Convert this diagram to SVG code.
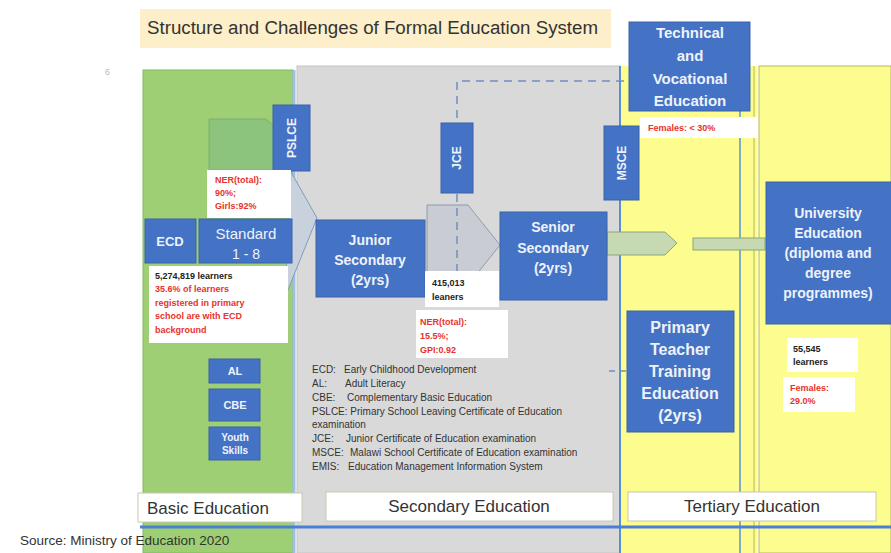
<svg xmlns="http://www.w3.org/2000/svg" width="891" height="553" viewBox="0 0 891 553">
<defs>
<style>
text{font-family:"Liberation Sans",Arial,sans-serif;}
.box{fill:#4472c4;stroke:#3a62a8;stroke-width:1;}
.bt{fill:#eef2fa;font-weight:bold;text-anchor:middle;}
.wbox{fill:#ffffff;}
.red{fill:#e8322b;font-weight:bold;font-size:9px;}
.blk{fill:#222;font-weight:bold;font-size:9px;}
.leg{fill:#333;font-size:10px;}
.lab{fill:#ffffff;stroke:#c8c8b0;stroke-width:1;}
.labt{fill:#333;font-size:17px;}
</style>
</defs>
<rect width="891" height="553" fill="#ffffff"/>
<g id="title">
<rect x="140" y="9" width="471" height="39" fill="#fdefc9"/>
<text x="147" y="34" font-size="18" fill="#333" textLength="451" lengthAdjust="spacingAndGlyphs">Structure  and Challenges of Formal Education System</text>
</g>
<text x="105" y="75" font-size="9" fill="#bbbbbb">6</text>
<g id="regions">
<rect x="143" y="70" width="150" height="483" fill="#9ecf74" stroke="#84b95c" stroke-width="1"/>
<rect x="297" y="66" width="323" height="487" fill="#d9d9d9" stroke="#c4c4c4" stroke-width="1"/>
<rect x="620" y="66" width="137" height="487" fill="#fdfd8f"/>
<rect x="759" y="66" width="132" height="487" fill="#fdfd8f" stroke="#b8b85a" stroke-width="1"/>
<line x1="294" y1="70" x2="294" y2="553" stroke="#9dc0e8" stroke-width="3"/>
<line x1="620" y1="66" x2="620" y2="553" stroke="#5b8fd0" stroke-width="2"/>
<line x1="740" y1="111" x2="740" y2="553" stroke="#5b8fd0" stroke-width="1.5"/>
<line x1="754" y1="66" x2="754" y2="553" stroke="#b8b85a" stroke-width="1"/>
</g>
<g id="connectors">
<polygon points="209,119 266,119 292,142 292,170 209,170" fill="#8cc47e" stroke="#7aae6c" stroke-width="1"/>
<polygon points="291,172 317,218 285,297" fill="#c9d1dc" stroke="#7f9cc4" stroke-width="1"/>
<polygon points="427,205 468,205 500,245 468,285 427,285" fill="#c9ccd2" stroke="#8c9bb0" stroke-width="1"/>
<path d="M457,300 V81 H628" fill="none" stroke="#6f8fc0" stroke-width="1.5" stroke-dasharray="8,6"/>
<line x1="609" y1="371" x2="626" y2="371" stroke="#6f8fc0" stroke-width="1.5" stroke-dasharray="6,5"/>
<polygon points="607,232 665,232 677,243 665,255 607,255" fill="#c6d9b2" stroke="#8aa876" stroke-width="1"/>
<rect x="693" y="238" width="72" height="12" fill="#c6d9b2" stroke="#8aa876" stroke-width="1"/>
</g>
<g id="pslce">
<rect class="box" x="273" y="105" width="37" height="66"/>
<text class="bt" font-size="12" transform="translate(296,138) rotate(-90)">PSLCE</text>
</g>
<g id="ner-primary">
<rect class="wbox" x="207" y="170" width="84" height="48"/>
<text class="red" x="215" y="183">NER(total):</text>
<text class="red" x="215" y="196">90%;</text>
<text class="red" x="215" y="209">Girls:92%</text>
</g>
<g id="ecd">
<rect class="box" x="145" y="219" width="51" height="44"/>
<text class="bt" font-size="13" x="170" y="246">ECD</text>
</g>
<g id="standard">
<rect class="box" x="199" y="219" width="93" height="44"/>
<text class="bt" font-size="15" x="246" y="239" style="font-weight:normal">Standard</text>
<text class="bt" font-size="14" x="246" y="259" style="font-weight:normal">1 - 8</text>
</g>
<g id="learners-primary">
<rect class="wbox" x="149" y="266" width="139" height="77"/>
<text class="blk" x="155" y="279">5,274,819  learners</text>
<text class="red" x="155" y="292">35.6% of learners</text>
<text class="red" x="155" y="306">registered in primary</text>
<text class="red" x="155" y="319">school are with ECD</text>
<text class="red" x="155" y="333">background</text>
</g>
<g id="al">
<rect class="box" x="209" y="359" width="51" height="24"/>
<text class="bt" font-size="11" x="235" y="375">AL</text>
</g>
<g id="cbe">
<rect class="box" x="209" y="389" width="51" height="32"/>
<text class="bt" font-size="11" x="235" y="409">CBE</text>
</g>
<g id="youth">
<rect class="box" x="209" y="427" width="51" height="33"/>
<text class="bt" font-size="10" x="235" y="441">Youth</text>
<text class="bt" font-size="10" x="235" y="454">Skills</text>
</g>
<g id="junior">
<rect class="box" x="316" y="220" width="109" height="77"/>
<text class="bt" font-size="14" x="370" y="245">Junior</text>
<text class="bt" font-size="14" x="370" y="265">Secondary</text>
<text class="bt" font-size="14" x="370" y="285">(2yrs)</text>
</g>
<g id="jce">
<rect class="box" x="441" y="123" width="32" height="70"/>
<text class="bt" font-size="12" transform="translate(461,158) rotate(-90)">JCE</text>
</g>
<g id="learners-secondary">
<rect class="wbox" x="425" y="271" width="74" height="36"/>
<text class="blk" x="432" y="286">415,013</text>
<text class="blk" x="432" y="300">leaners</text>
</g>
<g id="ner-secondary">
<rect class="wbox" x="416" y="310" width="92" height="48"/>
<text class="red" x="420" y="325">NER(total):</text>
<text class="red" x="420" y="339">15.5%;</text>
<text class="red" x="420" y="353">GPI:0.92</text>
</g>
<g id="senior">
<rect class="box" x="500" y="212" width="107" height="88"/>
<text class="bt" font-size="14" x="553" y="232">Senior</text>
<text class="bt" font-size="14" x="553" y="253">Secondary</text>
<text class="bt" font-size="14" x="553" y="273">(2yrs)</text>
</g>
<g id="msce">
<rect class="box" x="604" y="126" width="35" height="74"/>
<text class="bt" font-size="12" transform="translate(626,163) rotate(-90)">MSCE</text>
</g>
<g id="tve">
<rect class="box" x="629" y="22" width="121" height="89"/>
<text class="bt" font-size="15" x="690" y="38">Technical</text>
<text class="bt" font-size="15" x="690" y="61">and</text>
<text class="bt" font-size="15" x="690" y="84">Vocational</text>
<text class="bt" font-size="15" x="690" y="106">Education</text>
</g>
<g id="tve-females">
<rect class="wbox" x="640" y="117" width="117" height="21"/>
<text class="red" x="648" y="131">Females: &lt; 30%</text>
</g>
<g id="ptte">
<rect class="box" x="627" y="311" width="107" height="121"/>
<text class="bt" font-size="16" x="680" y="333">Primary</text>
<text class="bt" font-size="16" x="680" y="355">Teacher</text>
<text class="bt" font-size="16" x="680" y="377">Training</text>
<text class="bt" font-size="16" x="680" y="399">Education</text>
<text class="bt" font-size="16" x="680" y="421">(2yrs)</text>
</g>
<g id="university">
<rect class="box" x="766" y="182" width="130" height="142"/>
<text class="bt" font-size="14" x="828" y="218">University</text>
<text class="bt" font-size="14" x="828" y="238">Education</text>
<text class="bt" font-size="14" x="828" y="258">(diploma and</text>
<text class="bt" font-size="14" x="828" y="278">degree</text>
<text class="bt" font-size="14" x="828" y="298">programmes)</text>
</g>
<g id="uni-learners">
<rect class="wbox" x="787" y="338" width="71" height="34"/>
<text class="blk" x="793" y="352">55,545</text>
<text class="blk" x="793" y="365">learners</text>
</g>
<g id="uni-females">
<rect class="wbox" x="783" y="377" width="72" height="35"/>
<text class="red" x="790" y="391">Females:</text>
<text class="red" x="790" y="404">29.0%</text>
</g>
<g id="legend">
<text class="leg" x="312" y="373">ECD:</text><text class="leg" x="344" y="373">Early Childhood Development</text>
<text class="leg" x="312" y="387">AL:</text><text class="leg" x="345" y="387">Adult Literacy</text>
<text class="leg" x="312" y="401">CBE:</text><text class="leg" x="347" y="401">Complementary Basic Education</text>
<text class="leg" x="312" y="415">PSLCE: Primary School Leaving Certificate of Education</text>
<text class="leg" x="312" y="428">examination</text>
<text class="leg" x="312" y="442">JCE:</text><text class="leg" x="346" y="442">Junior Certificate of Education examination</text>
<text class="leg" x="312" y="456">MSCE:</text><text class="leg" x="350" y="456">Malawi School Certificate of Education examination</text>
<text class="leg" x="312" y="470">EMIS:</text><text class="leg" x="348" y="470">Education Management Information System</text>
</g>
<g id="labels">
<rect class="lab" x="138" y="493" width="164" height="29"/>
<text class="labt" x="147" y="514" font-size="16.5">Basic Education</text>
<rect class="lab" x="326" y="492" width="287" height="29"/>
<text class="labt" x="469" y="512" text-anchor="middle">Secondary Education</text>
<rect class="lab" x="628" y="492" width="248" height="29"/>
<text class="labt" x="752" y="512" text-anchor="middle">Tertiary Education</text>
<line x1="140" y1="527" x2="891" y2="527" stroke="#4a7fd4" stroke-width="3"/>
</g>
<text x="20" y="545" font-size="13.5" fill="#333">Source: Ministry of Education 2020</text>
</svg>
